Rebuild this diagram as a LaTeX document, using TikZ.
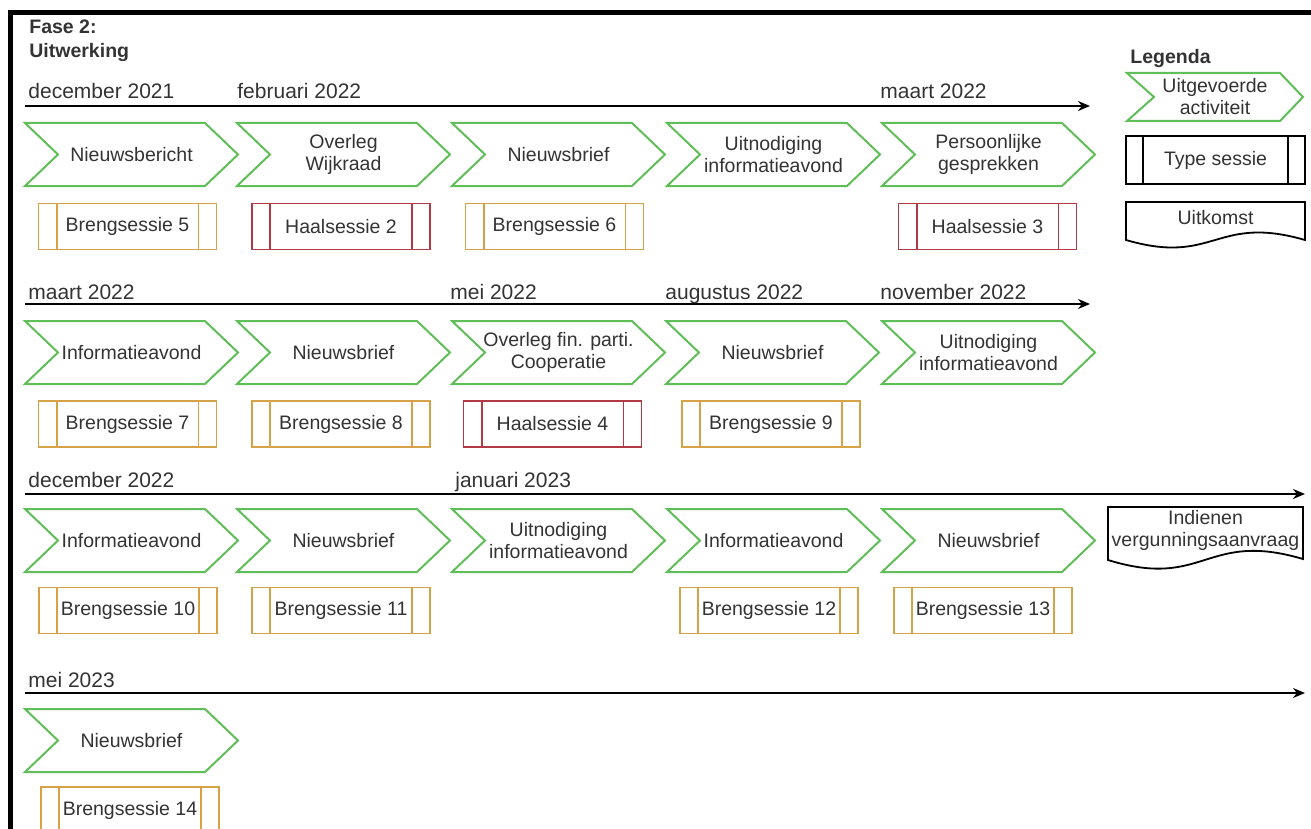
\documentclass[tikz,border=0pt]{standalone}
\usepackage{fontspec}
\setmainfont{Liberation Sans}
\usepackage{xcolor}
\usetikzlibrary{arrows.meta}

\definecolor{actgroen}{RGB}{96,190,88}
\definecolor{brengkleur}{RGB}{214,162,72}
\definecolor{haalkleur}{RGB}{178,58,70}
\definecolor{tekst}{RGB}{51,51,51}

% activiteit: name, left x, top y, text
\newcommand{\activiteit}[4]{
	\draw[actrand] (#2,#3) -- ++(180,0) -- ++(33,31.5) -- ++(-33,31.5) -- ++(-180,0) -- ++(33,-31.5) -- cycle;
	\node[acttekst] (#1) at ({#2+106.5},{#3+31.5}) {#4};
}
% sessie: name, centre x, centre y, colour, text
\newcommand{\sessie}[5]{
	\node[sessiebox, draw = #4] (#1) at (#2,#3) {#5};
	\draw[#4, line width = 0.9pt] ([xshift = 9.5pt]#1.north west) -- ([xshift = 9.5pt]#1.south west);
	\draw[#4, line width = 0.9pt] ([xshift = -9.5pt]#1.north east) -- ([xshift = -9.5pt]#1.south east);
}

\begin{document}
\begin{tikzpicture}[x = 0.5pt, y = -0.5pt]
\tikzstyle{actrand} = [draw = actgroen, line width = 1pt, line join = miter]
\tikzstyle{acttekst} = [text = tekst, align = center, font = \fontsize{9.75}{11}\selectfont, inner sep = 0pt]
\tikzstyle{sessiebox} = [line width = 0.9pt, minimum width = 89pt, minimum height = 23pt, text = tekst, font = \fontsize{9.75}{11}\selectfont, inner sep = 0pt]
\tikzstyle{datum} = [anchor = base west, text = tekst, font = \fontsize{10.5}{12}\selectfont, inner sep = 0pt]
\tikzstyle{kop} = [anchor = base west, text = tekst, font = \fontsize{9.75}{11}\selectfont\bfseries, inner sep = 0pt]
\tikzstyle{tijdlijn} = [line width = 1pt, -{Stealth[length = 6pt, width = 5pt]}]

\useasboundingbox (0,0) rectangle (1311,829);
\draw[line width = 2.5pt] (10.5,829) -- (10.5,12.5) -- (1311,12.5);

\node[kop] (fase) at (29,34) {Fase 2:};
\node[kop] (uitwerking) at (29,58) {Uitwerking};

% rij 1
\coordinate (begin1) at (25,106);
\coordinate (eind1) at (1090,106);
\draw[tijdlijn] (begin1) -- (eind1);
\node[datum] (dec21) at (28,98) {december 2021};
\node[datum] (feb22) at (237,98) {februari 2022};
\node[datum] (mrt22a) at (880,98) {maart 2022};

\activiteit{nieuwsbericht}{25}{123}{Nieuwsbericht}
\activiteit{wijkraad}{237}{123}{Overleg\\Wijkraad}
\activiteit{brief1}{452}{123}{Nieuwsbrief}
\activiteit{uitnod1}{667}{123}{Uitnodiging\\informatieavond}
\activiteit{gesprekken}{882}{123}{Persoonlijke\\gesprekken}

\sessie{breng5}{127.5}{226.5}{brengkleur}{Brengsessie 5}
\sessie{haal2}{341}{226.5}{haalkleur}{Haalsessie 2}
\sessie{breng6}{554.5}{226.5}{brengkleur}{Brengsessie 6}
\sessie{haal3}{987.5}{226.5}{haalkleur}{Haalsessie 3}

% rij 2
\coordinate (begin2) at (25,304);
\coordinate (eind2) at (1090,304);
\draw[tijdlijn] (begin2) -- (eind2);
\node[datum] (mrt22b) at (28,299) {maart 2022};
\node[datum] (mei22) at (450,299) {mei 2022};
\node[datum] (aug22) at (665,299) {augustus 2022};
\node[datum] (nov22) at (880,299) {november 2022};

\activiteit{avond1}{25}{321}{Informatieavond}
\activiteit{brief2}{237}{321}{Nieuwsbrief}
\activiteit{cooperatie}{452}{321}{Overleg fin. parti.\\Cooperatie}
\activiteit{brief3}{666}{321}{Nieuwsbrief}
\activiteit{uitnod2}{882}{321}{Uitnodiging\\informatieavond}

\sessie{breng7}{127.5}{424}{brengkleur}{Brengsessie 7}
\sessie{breng8}{341}{424}{brengkleur}{Brengsessie 8}
\sessie{haal4}{552.5}{424}{haalkleur}{Haalsessie 4}
\sessie{breng9}{771}{424}{brengkleur}{Brengsessie 9}

% rij 3
\coordinate (begin3) at (25,494);
\coordinate (eind3) at (1305,494);
\draw[tijdlijn] (begin3) -- (eind3);
\node[datum] (dec22) at (28,487) {december 2022};
\node[datum] (jan23) at (455,487) {januari 2023};

\activiteit{avond2}{25}{509}{Informatieavond}
\activiteit{brief4}{237}{509}{Nieuwsbrief}
\activiteit{uitnod3}{452}{509}{Uitnodiging\\informatieavond}
\activiteit{avond3}{667}{509}{Informatieavond}
\activiteit{brief5}{882}{509}{Nieuwsbrief}

\sessie{breng10}{128}{610.5}{brengkleur}{Brengsessie 10}
\sessie{breng11}{341}{610.5}{brengkleur}{Brengsessie 11}
\sessie{breng12}{769}{610.5}{brengkleur}{Brengsessie 12}
\sessie{breng13}{983}{610.5}{brengkleur}{Brengsessie 13}

\draw[line width = 0.9pt] (1108,507) -- (1303,507) -- (1303,559) .. controls (1205,530) and (1205,590) .. (1108,560) -- cycle;
\node[acttekst] (aanvraag) at (1205.5,530) {Indienen\\vergunningsaanvraag};

% rij 4
\coordinate (begin4) at (25,693);
\coordinate (eind4) at (1305,693);
\draw[tijdlijn] (begin4) -- (eind4);
\node[datum] (mei23) at (28,687) {mei 2023};

\activiteit{brief6}{25}{709}{Nieuwsbrief}

\sessie{breng14}{130}{810}{brengkleur}{Brengsessie 14}

% legenda
\node[kop] (legenda) at (1130,64) {Legenda};
\draw[actrand] (1127,73) -- (1280,73) -- (1303,97) -- (1280,121) -- (1127,121) -- (1154,97) -- cycle;
\node[acttekst] (uitgevoerd) at (1215,97) {Uitgevoerde\\activiteit};
\node[sessiebox, draw = black, minimum width = 89.5pt, minimum height = 24pt] (type) at (1215.5,160) {Type sessie};
\draw[line width = 0.9pt] ([xshift = 9pt]type.north west) -- ([xshift = 9pt]type.south west);
\draw[line width = 0.9pt] ([xshift = -9pt]type.north east) -- ([xshift = -9pt]type.south east);
\draw[line width = 0.9pt] (1126,202) -- (1305,202) -- (1305,240) .. controls (1215,214) and (1215,266) .. (1126,240) -- cycle;
\node[acttekst] (uitkomst) at (1215.5,218) {Uitkomst};
\end{tikzpicture}
\end{document}
